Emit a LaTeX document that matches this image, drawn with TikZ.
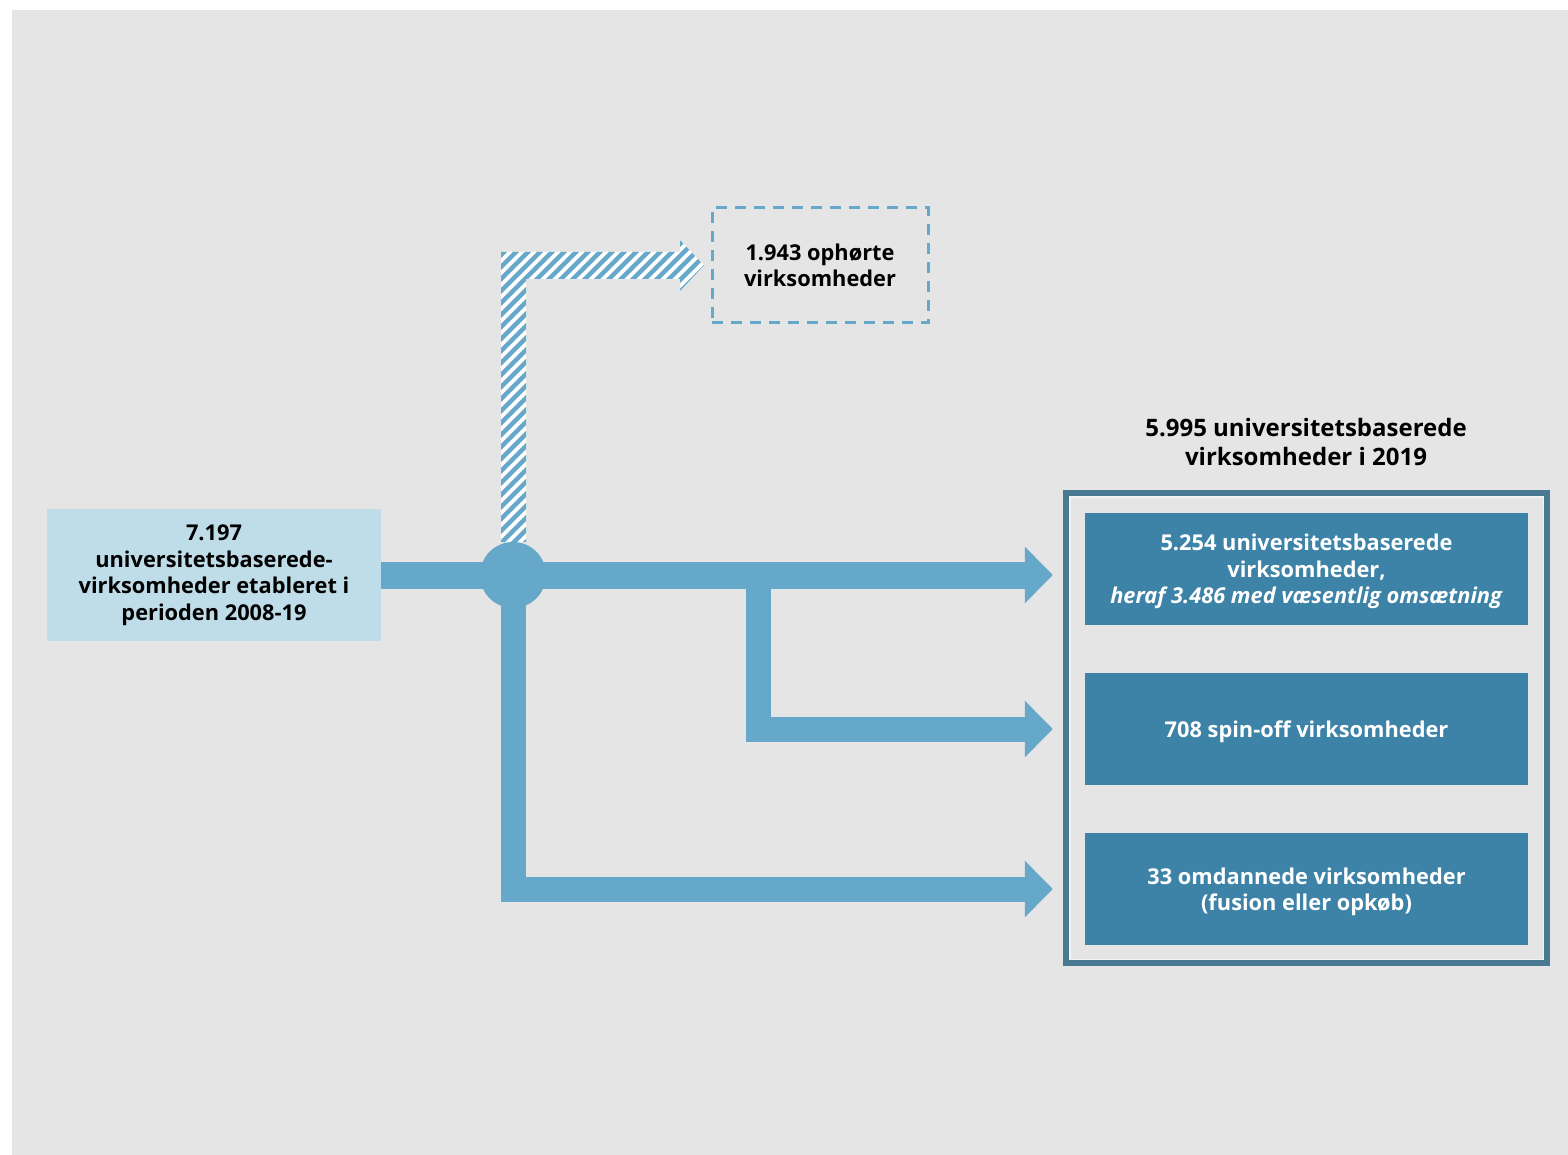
\documentclass[tikz,border=0pt]{standalone}
\usepackage{fontspec}
\setmainfont{Open Sans}
\usetikzlibrary{arrows.meta}
\definecolor{bg}{HTML}{E5E5E5}
\definecolor{flow}{HTML}{66A8C9}
\definecolor{lightbox}{HTML}{BFDDE9}
\definecolor{darkbox}{HTML}{3D83A7}
\definecolor{framec}{HTML}{4A7A91}
\begin{document}
\begin{tikzpicture}[x=1pt,y=-1pt,
  txt/.style={font=\bfseries\fontsize{21.8}{26.5}\selectfont, align=center},
  flowline/.style={draw=flow, line width=27pt, line join=miter,
    -{Triangle[width=55pt,length=28pt]}, shorten >=32pt},
  resbox/.style={fill=darkbox, minimum width=443pt,
    minimum height=112pt, inner sep=0pt},
  restext/.style={txt, text=white, inner sep=0pt},
]
% canvas
\fill[white] (0,0) rectangle (1568,1155);
\fill[bg] (12,10) rectangle (1568,1155);

% nodes
\node[fill=lightbox, minimum width=334pt, minimum height=132pt, inner sep=0pt, txt]
  (src) at (214,575) {7.197\\universitetsbaserede-\\virksomheder etableret i\\perioden 2008-19};
\node[draw=flow, line width=3pt, dash pattern=on 11pt off 8pt,
  minimum width=216pt, minimum height=115pt, inner sep=0pt, txt]
  (closed) at (820,265.5) {1.943 ophørte\\virksomheder};
\node[font=\bfseries\fontsize{24}{29}\selectfont, align=center]
  (title) at (1306,442) {5.995 universitetsbaserede\\virksomheder i 2019};
\node[draw=framec, line width=6pt, minimum width=481pt, minimum height=470pt, inner sep=0pt]
  (frame) at (1306.5,728) {};
\draw[white!55!bg, line width=1.5pt] ([shift={(6.75,-6.75)}]frame.south west) rectangle ([shift={(-6.75,6.75)}]frame.north east);
\node[resbox] (box1) at (1306.5,569) {};
\node[resbox] (box2) at (1306.5,729) {};
\node[resbox] (box3) at (1306.5,889) {};
\node[restext] (box1t) at ([yshift=-2.5pt]box1.center) {5.254 universitetsbaserede\\virksomheder,\\\textit{heraf 3.486 med væsentlig omsætning}};
\node[restext] (box2t) at ([yshift=-3pt]box2.center) {708 spin-off virksomheder};
\node[restext] (box3t) at ([yshift=-3pt]box3.center) {33 omdannede virksomheder\\(fusion eller opkøb)};

% hatched arrow to closed companies
\begin{scope}
  \clip (501,542) -- (501,252) -- (680,252) -- (680,240) -- (704,265.5)
        -- (680,291) -- (680,279) -- (526,279) -- (526,542) -- cycle;
  \fill[white] (480,220) rectangle (720,560);
  \foreach \c in {150,162,...,720}
    \draw[flow, line width=4.5pt] (\c,570) -- (\c+360,210);
\end{scope}

% flows
\coordinate (hubc) at (513,575);
\coordinate (split) at (758,575);
\draw[flowline] (src.east |- hubc) -- (hubc -| box1.west);
\draw[flowline, line width=25pt] (split) |- (box2.west);
\draw[flowline, line width=25pt] (hubc) |- (box3.west);
\node[circle, fill=flow, minimum size=66pt, inner sep=0pt] (hub) at (hubc) {};
\end{tikzpicture}
\end{document}
